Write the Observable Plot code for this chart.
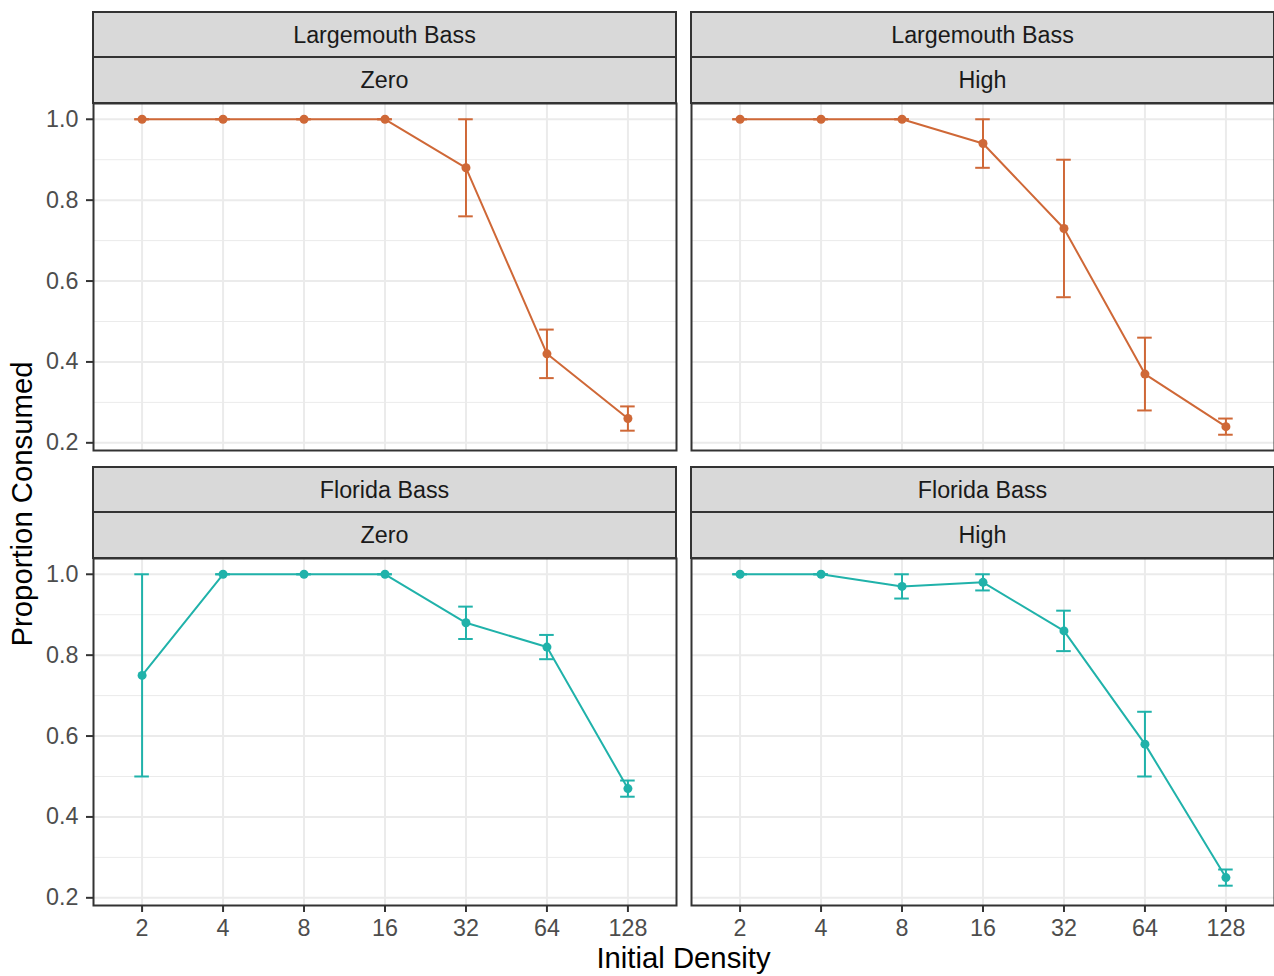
<!DOCTYPE html>
<html><head><meta charset="utf-8">
<script src="https://cdn.jsdelivr.net/npm/d3@7"></script>
<script src="https://cdn.jsdelivr.net/npm/@observablehq/plot@0.6"></script>
<style>
html,body{margin:0;padding:0;background:#fff;}
#root{position:relative;width:1274px;height:976px;overflow:hidden;font-family:"Liberation Sans",Arial,Helvetica,sans-serif;}
#root > svg{position:absolute;}
</style></head><body><div id="root"></div>
<script>
// ---- data ----
const densities = ["2","4","8","16","32","64","128"];
const species = ["Largemouth Bass","Florida Bass"];
const treatments = ["Zero","High"];
const yTicks = [0.2,0.4,0.6,0.8,1.0];
const yMinor = [0.3,0.5,0.7,0.9];

const lbZeroMean = [1,1,1,1,0.88,0.42,0.26];
const lbZeroLo   = [1,1,1,1,0.76,0.36,0.23];
const lbZeroHi   = [1,1,1,1,1.00,0.48,0.29];

const lbHighMean = [1,1,1,0.94,0.73,0.37,0.24];
const lbHighLo   = [1,1,1,0.88,0.56,0.28,0.22];
const lbHighHi   = [1,1,1,1.00,0.90,0.46,0.26];

const fbZeroMean = [0.75,1,1,1,0.88,0.82,0.47];
const fbZeroLo   = [0.50,1,1,1,0.84,0.79,0.45];
const fbZeroHi   = [1.00,1,1,1,0.92,0.85,0.49];

const fbHighMean = [1,1,0.97,0.98,0.86,0.58,0.25];
const fbHighLo   = [1,1,0.94,0.96,0.81,0.50,0.23];
const fbHighHi   = [1,1,1.00,1.00,0.91,0.66,0.27];

const speciesColors = ["#CF6837","#20B2AA"];

// ---- layout ----
const FONT = '"Liberation Sans", Arial, Helvetica, sans-serif';
const TICK_FS = 23.3, STRIP_FS = 23.3, TITLE_FS = 29.3;
const colX = [93, 691], pw = 583;
const rowY = [103, 558], ph = 347;
const stripTotal = 91, stripSplit = 46;
const yDomain = [0.181, 1.039];
const capHalf = 0.09;

const panels = [
  {row:0, col:0, sp:0, tr:0, mean:lbZeroMean, lo:lbZeroLo, hi:lbZeroHi},
  {row:0, col:1, sp:0, tr:1, mean:lbHighMean, lo:lbHighLo, hi:lbHighHi},
  {row:1, col:0, sp:1, tr:0, mean:fbZeroMean, lo:fbZeroLo, hi:fbZeroHi},
  {row:1, col:1, sp:1, tr:1, mean:fbHighMean, lo:fbHighLo, hi:fbHighHi}
];

const root = document.getElementById("root");
const idx = d3.range(densities.length);

for (const p of panels) {
  const left = p.col === 0, bottom = p.row === 1;
  const mL = left ? 93 : 2, mR = 2, mT = 2, mB = bottom ? 45 : 2;
  const data = idx.map(i => ({i, mean:p.mean[i], lo:p.lo[i], hi:p.hi[i]}));
  const color = speciesColors[p.sp];
  const marks = [
    Plot.gridY(yMinor, {stroke:"#ebebeb", strokeOpacity:1, strokeWidth:1}),
    Plot.gridY(yTicks, {stroke:"#ebebeb", strokeOpacity:1, strokeWidth:2}),
    Plot.gridX(idx, {stroke:"#ebebeb", strokeOpacity:1, strokeWidth:2}),
    Plot.ruleX(data, {x:"i", y1:"lo", y2:"hi", stroke:color, strokeWidth:2}),
    Plot.ruleY(data, {y:"hi", x1:d => d.i - capHalf, x2:d => d.i + capHalf, stroke:color, strokeWidth:2}),
    Plot.ruleY(data, {y:"lo", x1:d => d.i - capHalf, x2:d => d.i + capHalf, stroke:color, strokeWidth:2}),
    Plot.line(data, {x:"i", y:"mean", stroke:color, strokeWidth:2}),
    Plot.dot(data, {x:"i", y:"mean", r:4.5, fill:color, stroke:null})
  ];
  if (left) marks.push(Plot.axisY(yTicks, {tickSize:7, tickPadding:8, tickFormat:d3.format(".1f"),
      fontSize:TICK_FS, fill:"#4d4d4d", stroke:"#333333", strokeWidth:2, label:null}));
  if (bottom) marks.push(Plot.axisX(idx, {tickSize:7, tickPadding:7, tickFormat:i => densities[i],
      fontSize:TICK_FS, fill:"#4d4d4d", stroke:"#333333", strokeWidth:2, label:null}));
  marks.push(Plot.frame({stroke:"#333333", strokeWidth:2}));

  const chart = Plot.plot({
    width: mL + pw + mR, height: mT + ph + mB,
    marginLeft:mL, marginRight:mR, marginTop:mT, marginBottom:mB,
    x: {domain:[-0.6, densities.length - 1 + 0.6], axis:null},
    y: {domain:yDomain, axis:null},
    style: {fontFamily:FONT, background:"transparent", overflow:"visible"},
    marks
  });
  chart.style.left = (colX[p.col] - mL) + "px";
  chart.style.top = (rowY[p.row] - mT) + "px";
  root.appendChild(chart);
}

// ---- strips and titles ----
const svg = d3.create("svg").attr("width",1274).attr("height",976)
  .style("left","0px").style("top","0px").style("font-family",FONT);
for (const p of panels) {
  const x0 = colX[p.col], top = rowY[p.row] - stripTotal, split = rowY[p.row] - stripSplit, end = rowY[p.row];
  const labels = [[species[p.sp], top, split], [treatments[p.tr], split, end]];
  for (const [lab, a, b] of labels) {
    svg.append("rect").attr("x", x0).attr("y", a).attr("width", pw).attr("height", b - a)
      .attr("fill","#d9d9d9").attr("stroke","#333333").attr("stroke-width",2);
    svg.append("text").attr("x", x0 + pw/2).attr("y", (a + b)/2).attr("dy","0.36em")
      .attr("text-anchor","middle").attr("font-size",STRIP_FS).attr("fill","#1a1a1a").text(lab);
  }
}
svg.append("text").attr("x", (colX[0] + colX[1] + pw)/2).attr("y", 968)
  .attr("text-anchor","middle").attr("font-size",TITLE_FS).attr("fill","#000").text("Initial Density");
svg.append("text").attr("transform", `translate(32,${(rowY[0] + rowY[1] + ph)/2}) rotate(-90)`)
  .attr("text-anchor","middle").attr("font-size",TITLE_FS).attr("fill","#000").text("Proportion Consumed");
root.appendChild(svg.node());
</script></body></html>
